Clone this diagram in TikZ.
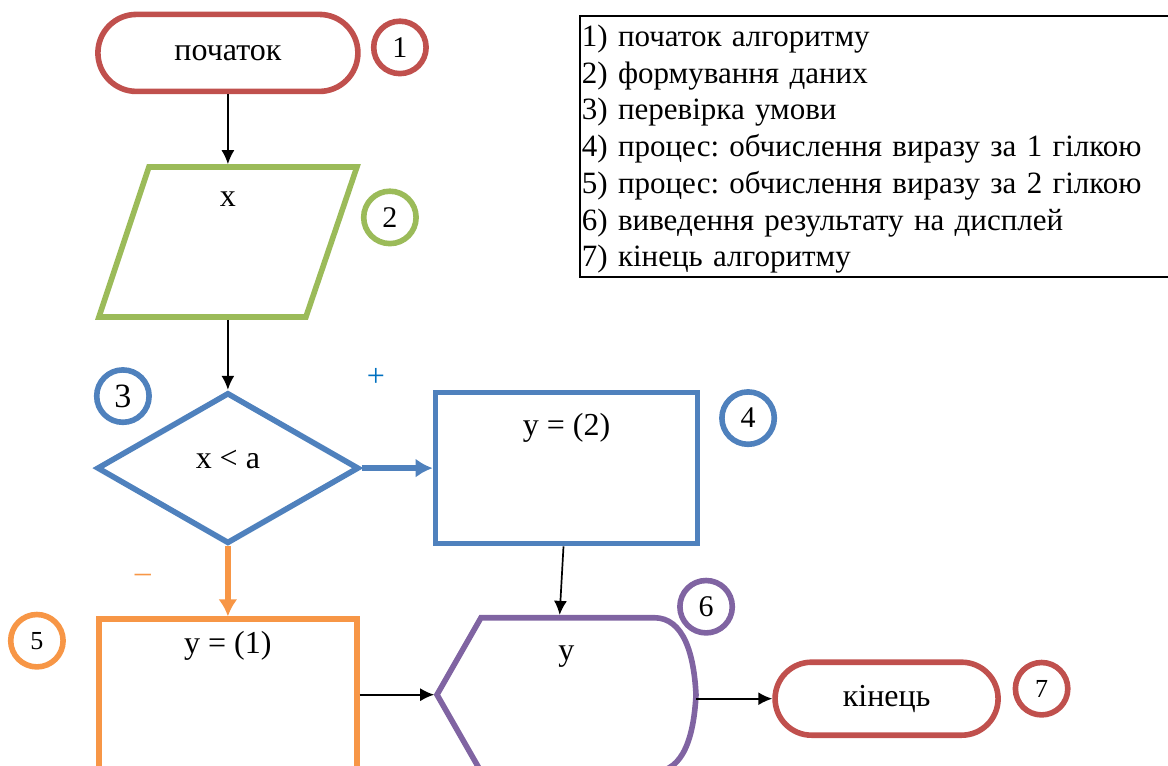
\documentclass[tikz,border=0pt]{standalone}
\usepackage{fontspec}
\setmainfont{Liberation Serif}
\usetikzlibrary{matrix,positioning,shapes.geometric,shapes.misc,arrows.meta}

\definecolor{termred}{HTML}{C0504D}
\definecolor{datagreen}{HTML}{9BBB59}
\definecolor{condblue}{HTML}{4F81BD}
\definecolor{branchorange}{HTML}{F79646}
\definecolor{outviolet}{HTML}{8064A2}
\definecolor{plusblue}{HTML}{0070C0}

\begin{document}
\begin{tikzpicture}[
        x=0.5pt, y=-0.5pt,
        font=\fontsize{16}{19}\selectfont,
        term/.style={
          rounded rectangle,
          draw=termred,
          line width=2.8pt
          },
        frame/.style={
          rectangle,
          draw=none,
          outer sep=0pt
          },
        cond/.style={
          diamond,
          aspect=1.73,
          draw=condblue,
          line width=2.8pt,
          minimum width=131pt,
          minimum height=75.5pt
          },
        proc/.style={
          rectangle,
          draw=#1,
          line width=2.8pt,
          minimum width=131pt,
          minimum height=75.5pt
          },
        num/.style={
          circle,
          draw=#1,
          line width=2.8pt,
          minimum size=26.2pt,
          inner sep=0pt,
          font=\fontsize{15}{18}\selectfont
          },
        legend box/.style={
          draw,
          line width=1pt,
          align=left,
          text width=297pt,
          inner xsep=1.2pt,
          inner ysep=2pt,
          minimum height=130pt,
          font=\fontsize{15.5}{18.35}\selectfont\frenchspacing
          },
        chart/.style={
          matrix of nodes,
          inner sep=0pt,
          nodes={anchor=center},
          column sep=36pt,
          row sep=35pt
          },
        flow/.style={-{Latex[length=7pt,width=6.5pt]}, line width=0.85pt},
        thick flow/.style={-{Latex[length=8.5pt,width=9.5pt]}, line width=2.8pt, draw=#1}
        ]
        \useasboundingbox (0,0) rectangle (1168,766);
        \matrix[chart] (chart) at (548,392.3)
        {
        |[term, minimum width=130pt, minimum height=38.5pt]| початок & & \\
        |[frame, minimum width=129pt, minimum height=77.8pt, label={[anchor=center,yshift=-17.7pt]above:x}]| & & \\
        |[cond, label={[anchor=center,yshift=-34.8pt]above:x < a}]| & |[proc=condblue, label={[anchor=center,yshift=-18.85pt]above:y = (2)}]| & \\
        |[proc=branchorange, minimum width=129pt, label={[anchor=center,yshift=-14.6pt]above:y = (1)}]| & |[frame, minimum width=129.5pt, minimum height=77pt, label={[anchor=center,yshift=-19.45pt]above:y}]| & |[term, minimum width=111.5pt, minimum height=36.5pt, xshift=2.5pt, yshift=-2pt]| кінець \\
        };
        % input block
        \draw[datagreen, line width=2.8pt]
          ([shift={(25pt,-1.4pt)}]chart-2-1.north west) -- ([yshift=-1.4pt]chart-2-1.north east)
          -- ([shift={(-25.5pt,1.4pt)}]chart-2-1.south east) -- ([yshift=1.4pt]chart-2-1.south west) -- cycle;
        % display block
        \draw[outviolet, line width=2.8pt]
          (chart-4-2.west) -- ([xshift=22pt]chart-4-2.north west)
          -- ([xshift=-21pt]chart-4-2.north east)
          .. controls +(15pt,0pt) and +(-1pt,20pt) .. (chart-4-2.east)
          .. controls +(-1pt,-20pt) and +(15pt,0pt) .. ([xshift=-21pt]chart-4-2.south east)
          -- ([xshift=22pt]chart-4-2.south west) -- cycle;
        % step numbers
        \node[num=termred] (n1) at ([shift={(172,-5.5)}]chart-1-1) {1};
        \node[num=datagreen] (n2) at ([shift={(162,-24.6)}]chart-2-1) {2};
        \node[num=condblue, font=\fontsize{17}{20}\selectfont] (n3) at ([shift={(-105,-72)}]chart-3-1) {3};
        \node[num=condblue] (n4) at ([shift={(181.6,-50)}]chart-3-2) {4};
        \node[num=branchorange, font=\fontsize{13}{15}\selectfont] (n5) at ([shift={(-191,-54)}]chart-4-1) {5};
        \node[num=outviolet] (n6) at ([shift={(139.6,-88)}]chart-4-2) {6};
        \node[num=termred, font=\fontsize{13}{15}\selectfont] (n7) at ([shift={(155,-10)}]chart-4-3) {7};
        \node[text=plusblue] (plus) at ([shift={(148,-91)}]chart-3-1) {+};
        \node[text=branchorange] (minus) at ([shift={(-85,110)}]chart-3-1) {–};
        % connectors
        \draw[flow] (chart-1-1) -- (chart-2-1);
        \draw[flow] (chart-2-1) -- (chart-3-1);
        \draw[thick flow=condblue] (chart-3-1) -- (chart-3-2);
        \draw[thick flow=branchorange] (chart-3-1) -- (chart-4-1);
        \draw[flow, shorten >=1.4pt] ([xshift=-1.5pt]chart-3-2.south) -- ([xshift=-3.5pt]chart-4-2.north);
        \draw[flow, shorten >=1.4pt] (chart-4-1) -- (chart-4-2);
        \draw[flow] ([yshift=-2pt]chart-4-2.east) -- (chart-4-3.west);
        % legend
        \node[legend box, anchor=north west] (legend) at (578.5,14.5)
          {\rule{0pt}{13.5pt}1) початок алгоритму\\
           2) формування даних\\
           3) перевірка умови\\
           4) процес: обчислення виразу за 1 гілкою\\
           5) процес: обчислення виразу за 2 гілкою\\
           6) виведення результату на дисплей\\
           7) кінець алгоритму};
\end{tikzpicture}
\end{document}
